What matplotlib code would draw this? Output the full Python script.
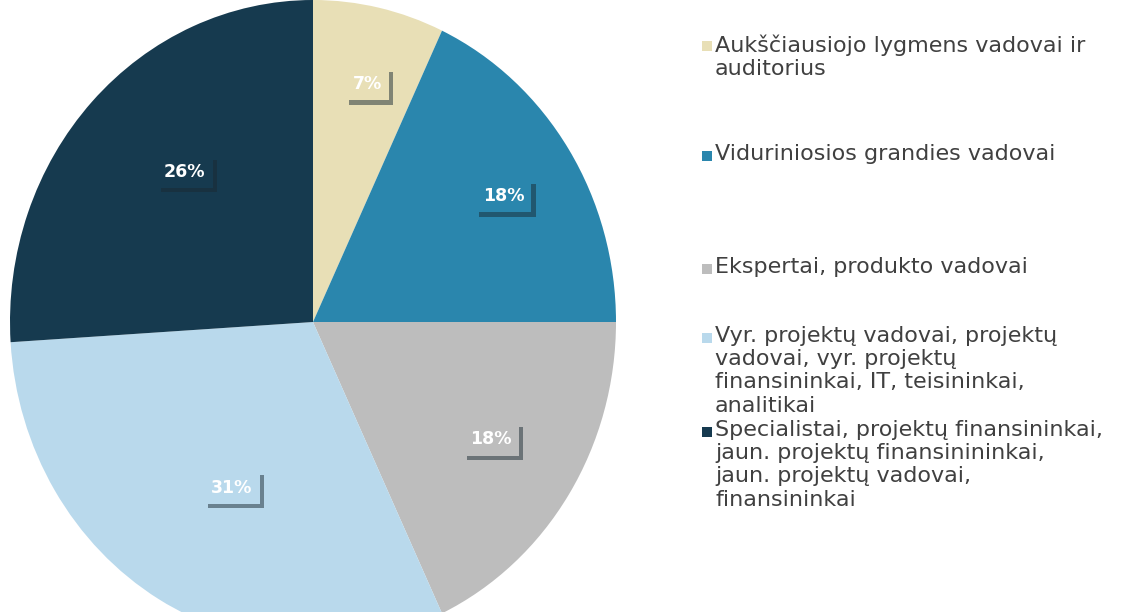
import matplotlib.pyplot as plt
import matplotlib.patheffects as pe
from matplotlib.patches import Rectangle
import numpy as np

# data
shares = [7, 18, 18, 31, 26]
colors = ['#e8dfb6', '#2a86ad', '#bdbdbd', '#b9d9ec', '#163a4f']
legend_labels = [
    'Aukščiausiojo lygmens vadovai ir\nauditorius',
    'Viduriniosios grandies vadovai',
    'Ekspertai, produkto vadovai',
    'Vyr. projektų vadovai, projektų\nvadovai, vyr. projektų\nfinansininkai, IT, teisininkai,\nanalitikai',
    'Specialistai, projektų finansininkai,\njaun. projektų finansinininkai,\njaun. projektų vadovai,\nfinansininkai',
]

# label placement per slice: distance (fraction of radius) and angle nudge (deg)
label_dist = [0.76, 0.74, 0.69, 0.58, 0.63]
label_nudge = [-1, -0.5, 0.5, 3, -4.5]
# top of each legend entry, pixels from the top
legend_top = [34, 144, 257, 326, 420]

W, H = 1146, 612
fig = plt.figure(figsize=(W / 100, H / 100), dpi=100)

# pie is a bit taller than wide in the scan, so let the axes stretch it
ax = fig.add_axes([10 / W, (H - 644) / H, 606 / W, 644 / H])
wedges, _ = ax.pie(shares, colors=colors, startangle=90, counterclock=False,
                   wedgeprops=dict(linewidth=0))
ax.set_aspect('auto')
ax.set_xlim(-1, 1)
ax.set_ylim(-1, 1)

for w, v, d, nd, c in zip(wedges, shares, label_dist, label_nudge, colors):
    ang = np.deg2rad((w.theta1 + w.theta2) / 2 + nd)
    t = ax.text(d * np.cos(ang), d * np.sin(ang), f'{v}%', ha='center', va='center',
                color='white', fontsize=12.5, fontweight='bold',
                bbox=dict(boxstyle='square,pad=0.42', facecolor=c, edgecolor='none'))
    t.get_bbox_patch().set_path_effects([
        pe.SimplePatchShadow(offset=(3, -3), shadow_rgbFace='#1a2a33', alpha=0.5),
        pe.Normal()])

# legend on the right
for lab, c, top in zip(legend_labels, colors, legend_top):
    fig.text(715 / W, 1 - top / H, lab, ha='left', va='top', fontsize=16,
             color='#404040', linespacing=1.2)
    fig.patches.append(Rectangle((702 / W, 1 - (top + 17) / H), 10 / W, 10 / H,
                                 transform=fig.transFigure, facecolor=c,
                                 edgecolor='none'))

fig.savefig('out.png', dpi=100)
